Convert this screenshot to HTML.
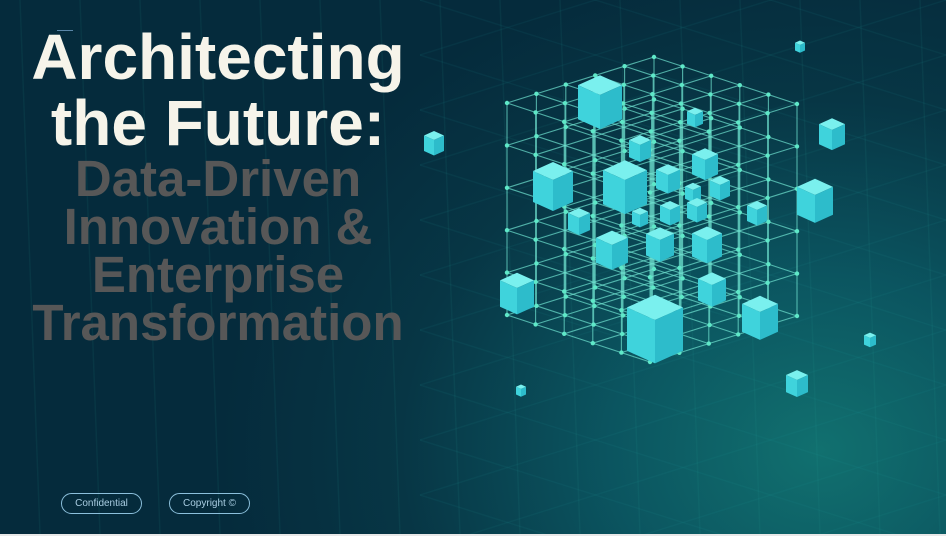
<!DOCTYPE html>
<html><head><meta charset="utf-8"><style>
html,body{margin:0;padding:0;overflow:hidden}
body{width:946px;height:536px;overflow:hidden;position:relative;background:#e8e8e8;font-family:"Liberation Sans",sans-serif}
#bg{position:absolute;left:0;top:0;width:946px;height:534px;background:radial-gradient(ellipse 600px 500px at 820px 450px,#11706f 0%,#0b5560 35%,#073645 70%,#052b3c 100%)}
svg{position:absolute;left:0;top:0}
.t{position:absolute;left:0;width:436px;text-align:center;font-weight:bold;white-space:nowrap}
.w{color:#f6f4ea;font-size:64px;line-height:66px}
.g{color:#575757;font-size:51px;line-height:48px}
.pill{position:absolute;top:493px;height:19px;border:1.3px solid #8cc0dc;border-radius:11px;color:#a9cde2;font-size:10px;line-height:19px;text-align:center}
</style></head><body>
<div id="bg"></div>
<svg id="s" width="946" height="534" viewBox="0 0 946 534"></svg>
<div style="position:absolute;left:57px;top:30px;width:16px;height:1px;background:#5a86a8"></div>
<div class="t w" style="top:24px">Architecting</div>
<div class="t w" style="top:90px">the Future:</div>
<div class="t g" style="top:155px">Data-Driven</div>
<div class="t g" style="top:203px">Innovation &amp;</div>
<div class="t g" style="top:251px">Enterprise</div>
<div class="t g" style="top:299px">Transformation</div>
<div class="pill" style="left:61px;width:79px">Confidential</div>
<div class="pill" style="left:169px;width:79px">Copyright ©</div>
<script>
var s=document.getElementById('s'),h='';
for(var i=-6;i<16;i++){var x=380+i*60;h+='<line x1="'+x+'" y1="0" x2="'+(x+20)+'" y2="534" stroke="#2aa3a0" stroke-opacity="0.09" stroke-width="1.5"/>';}
for(var i=-10;i<20;i++){var y=i*55;h+='<line x1="420" y1="'+y+'" x2="946" y2="'+(y+165)+'" stroke="#2aa3a0" stroke-opacity="0.08" stroke-width="1.5"/>';h+='<line x1="420" y1="'+(y+165)+'" x2="946" y2="'+y+'" stroke="#2aa3a0" stroke-opacity="0.08" stroke-width="1.5"/>';}
var T=[654,57],a=[-147,46],b=[143,47],c=[0,212],n=5;
function P(i,j,k){return [T[0]+a[0]*i/n+b[0]*j/n+c[0]*k/n,T[1]+a[1]*i/n+b[1]*j/n+c[1]*k/n];}
function L(p,q){h+='<line x1="'+p[0]+'" y1="'+p[1]+'" x2="'+q[0]+'" y2="'+q[1]+'" stroke="#6fe3d0" stroke-opacity="0.7" stroke-width="1.1"/>';}
for(var u=0;u<=n;u++)for(var v=0;v<=n;v++){L(P(0,u,v),P(n,u,v));L(P(u,0,v),P(u,n,v));L(P(u,v,0),P(u,v,n));}
for(var i=0;i<=n;i++)for(var j=0;j<=n;j++)for(var k=0;k<=n;k++){if(i==0||j==0||i==n||j==n||k==0||k==n){var p=P(i,j,k);h+='<circle cx="'+p[0]+'" cy="'+p[1]+'" r="2.2" fill="#5fe8c8"/>';}}
var C=[[600,95,22],[553,180,20],[625,180,22],[705,160,13],[668,175,12],[640,145,11],[720,185,10],[693,190,8],[670,210,10],[697,207,10],[757,210,10],[640,215,8],[579,218,11],[612,245,16],[660,240,14],[707,240,15],[712,285,14],[517,288,17],[655,320,28],[760,312,18],[815,195,18],[832,130,13],[434,140,10],[800,45,5],[870,338,6],[797,380,11],[521,389,5],[695,115,8]];
C.forEach(function(q){var x=q[0],y=q[1],r=q[2],d=r*0.45;
h+='<polygon points="'+(x-r)+','+(y-d)+' '+x+','+(y-2*d)+' '+(x+r)+','+(y-d)+' '+x+','+y+'" fill="#7af0ee"/>';
h+='<polygon points="'+(x-r)+','+(y-d)+' '+x+','+y+' '+x+','+(y+2*r-d)+' '+(x-r)+','+(y+2*r-2*d)+'" fill="#3fd3dc"/>';
h+='<polygon points="'+(x+r)+','+(y-d)+' '+x+','+y+' '+x+','+(y+2*r-d)+' '+(x+r)+','+(y+2*r-2*d)+'" fill="#2dbccb"/>';});
s.innerHTML=h;
</script>
</body></html>
